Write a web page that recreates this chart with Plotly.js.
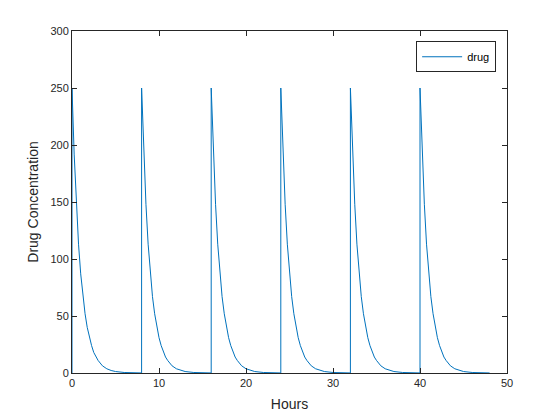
<!DOCTYPE html>
<html>
<head>
<meta charset="utf-8">
<script src="https://cdn.plot.ly/plotly-3.0.1.min.js"></script>
<style>html,body{margin:0;padding:0;background:#fff;}#chart{width:560px;height:420px;}</style>
</head>
<body>
<div id="chart"></div>
<script>
// Time (hours) and drug concentration
const hours = [
  0,
  0,0.25,0.5,0.75,1,1.25,1.5,1.75,2,2.25,2.5,2.75,3,3.5,4,4.5,5,6,7,8,
  8,8.25,8.5,8.75,9,9.25,9.5,9.75,10,10.25,10.5,10.75,11,11.5,12,12.5,13,14,15,16,
  16,16.25,16.5,16.75,17,17.25,17.5,17.75,18,18.25,18.5,18.75,19,19.5,20,20.5,21,22,23,24,
  24,24.25,24.5,24.75,25,25.25,25.5,25.75,26,26.25,26.5,26.75,27,27.5,28,28.5,29,30,31,32,
  32,32.25,32.5,32.75,33,33.25,33.5,33.75,34,34.25,34.5,34.75,35,35.5,36,36.5,37,38,39,40,
  40,40.25,40.5,40.75,41,41.25,41.5,41.75,42,42.25,42.5,42.75,43,43.5,44,44.5,45,46,47,48
];
const drug = [
  0,
  250,192,148,113,87,67,52,40,31,24,18,14,11,6.3,3.7,2.2,1.3,0.45,0.16,0.05,
  250,192,148,113,87,67,52,40,31,24,18,14,11,6.3,3.7,2.2,1.3,0.45,0.16,0.05,
  250,192,148,113,87,67,52,40,31,24,18,14,11,6.3,3.7,2.2,1.3,0.45,0.16,0.05,
  250,192,148,113,87,67,52,40,31,24,18,14,11,6.3,3.7,2.2,1.3,0.45,0.16,0.05,
  250,192,148,113,87,67,52,40,31,24,18,14,11,6.3,3.7,2.2,1.3,0.45,0.16,0.05,
  250,192,148,113,87,67,52,40,31,24,18,14,11,6.3,3.7,2.2,1.3,0.45,0.16,0.05
];
const xTicks = [0,10,20,30,40,50];
const yTicks = [0,50,100,150,200,250,300];
const seriesName = 'drug';
const xLabel = 'Hours';
const yLabel = 'Drug Concentration';

const axisCommon = {
  showgrid: false,
  zeroline: false,
  showline: true,
  linecolor: '#262626',
  linewidth: 1,
  mirror: 'ticks',
  ticks: 'inside',
  ticklen: 5,
  tickwidth: 1,
  tickcolor: '#262626',
  tickfont: {family: 'Liberation Sans, Arial, sans-serif', size: 11, color: '#262626'}
};

const trace = {
  x: hours,
  y: drug,
  type: 'scatter',
  mode: 'lines',
  name: seriesName,
  line: {color: '#0072BD', width: 1},
  showlegend: true
};

const layout = {
  width: 560,
  height: 420,
  margin: {l: 72, r: 53, t: 31, b: 47},
  paper_bgcolor: '#ffffff',
  plot_bgcolor: '#ffffff',
  font: {family: 'Liberation Sans, Arial, sans-serif', color: '#262626'},
  xaxis: Object.assign({}, axisCommon, {
    range: [0, 50],
    tickvals: xTicks,
    ticktext: xTicks.map(String),
    title: {text: xLabel, font: {size: 14, color: '#262626'}, standoff: 10}
  }),
  yaxis: Object.assign({}, axisCommon, {
    range: [0, 300],
    tickvals: yTicks,
    ticktext: yTicks.map(String),
    title: {text: yLabel, font: {size: 14, color: '#262626'}, standoff: 8}
  }),
  legend: {
    x: 0.975, y: 0.97, xanchor: 'right', yanchor: 'top',
    bgcolor: '#ffffff', bordercolor: '#262626', borderwidth: 1,
    font: {family: 'Liberation Sans, Arial, sans-serif', size: 11, color: '#000000'},
    itemwidth: 40, tracegroupgap: 0
  },
  showlegend: true
};

Plotly.newPlot('chart', [trace], layout, {staticPlot: true, displayModeBar: false});
</script>
</body>
</html>
